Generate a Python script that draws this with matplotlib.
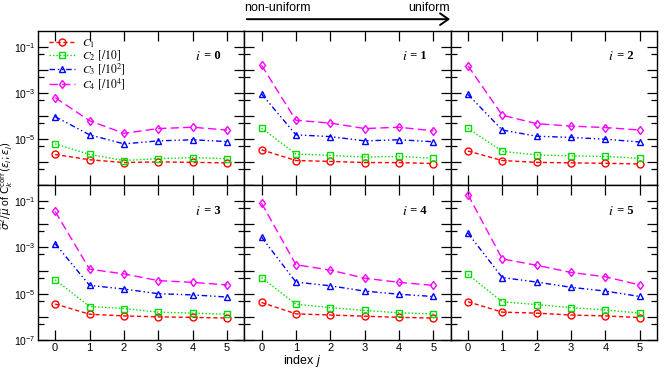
import matplotlib
matplotlib.use("Agg")
import matplotlib.pyplot as plt
import matplotlib.ticker as mticker
import numpy as np

# Data: index j, one list per curve for each panel i (values as plotted, already rescaled)
j_index = [0, 1, 2, 3, 4, 5]
panels = [0, 1, 2, 3, 4, 5]

c1 = [
    [2.2e-6, 1.3e-6, 9.8e-7, 1.05e-6, 1.0e-6, 9.5e-7],
    [3.5e-6, 1.2e-6, 1.1e-6, 9.8e-7, 9.8e-7, 8.9e-7],
    [3.1e-6, 1.2e-6, 1.0e-6, 9.5e-7, 9.1e-7, 8.5e-7],
    [3.6e-6, 1.3e-6, 1.1e-6, 1.0e-6, 9.5e-7, 8.9e-7],
    [4.2e-6, 1.35e-6, 1.2e-6, 1.07e-6, 9.5e-7, 8.9e-7],
    [4.5e-6, 1.6e-6, 1.45e-6, 1.2e-6, 1.1e-6, 9.3e-7],
]
c2 = [
    [6.3e-6, 2.2e-6, 1.2e-6, 1.45e-6, 1.6e-6, 1.45e-6],
    [3.0e-5, 2.3e-6, 2.0e-6, 1.7e-6, 1.8e-6, 1.5e-6],
    [3.0e-5, 3.0e-6, 2.1e-6, 1.9e-6, 1.8e-6, 1.5e-6],
    [4.0e-5, 2.8e-6, 2.3e-6, 1.6e-6, 1.45e-6, 1.3e-6],
    [5.0e-5, 3.5e-6, 2.5e-6, 1.9e-6, 1.5e-6, 1.35e-6],
    [6.8e-5, 4.5e-6, 3.4e-6, 2.5e-6, 2.0e-6, 1.45e-6],
]
c3 = [
    [9.5e-5, 1.55e-5, 6.3e-6, 8.5e-6, 9.5e-6, 7.9e-6],
    [9.1e-4, 1.55e-5, 1.3e-5, 8.5e-6, 9.5e-6, 7.8e-6],
    [8.7e-4, 2.5e-5, 1.35e-5, 1.2e-5, 1.0e-5, 7.6e-6],
    [1.45e-3, 2.3e-5, 1.6e-5, 1.0e-5, 8.9e-6, 7.2e-6],
    [2.8e-3, 3.2e-5, 2.2e-5, 1.3e-5, 9.5e-6, 7.6e-6],
    [4.2e-3, 5.0e-5, 3.2e-5, 1.9e-5, 1.3e-5, 7.6e-6],
]
c4 = [
    [6.3e-4, 6.3e-5, 1.8e-5, 2.9e-5, 3.3e-5, 2.5e-5],
    [1.6e-2, 6.6e-5, 5.0e-5, 2.9e-5, 3.3e-5, 2.3e-5],
    [1.5e-2, 1.1e-4, 4.7e-5, 3.7e-5, 3.2e-5, 2.5e-5],
    [3.6e-2, 1.15e-4, 7.2e-5, 3.7e-5, 3.1e-5, 2.4e-5],
    [8.3e-2, 1.8e-4, 1.05e-4, 4.7e-5, 3.1e-5, 2.3e-5],
    [1.95e-1, 3.2e-4, 1.7e-4, 8.3e-5, 5.4e-5, 2.4e-5],
]

labels = [r"$C_1$", r"$C_2\ [/10]$", r"$C_3\ [/10^2]$", r"$C_4\ [/10^4]$"]
colors = ["#ff0000", "#00dd00", "#0000ff", "#ff00ff"]
markers = ["o", "s", "^", "d"]
dashes = [(3, 2), (1, 1.5), (4, 2, 1, 2, 1, 2), (6, 3)]

plt.rcParams["font.family"] = ["Liberation Sans", "DejaVu Sans"]
plt.rcParams["mathtext.fontset"] = "custom"
plt.rcParams["mathtext.rm"] = "Liberation Sans"
plt.rcParams["mathtext.it"] = "Liberation Sans:italic"
plt.rcParams["mathtext.bf"] = "Liberation Sans:bold"

fig, axes = plt.subplots(2, 3, figsize=(6.64, 3.69), dpi=100)
fig.subplots_adjust(left=0.0572, right=0.9895, top=0.916, bottom=0.0786, wspace=0, hspace=0)


def make_fmt(skip):
    def fmt(v, pos):
        e = int(round(np.log10(v)))
        if e % 2 == 0 or e in skip:
            return ""
        return r"$10^{%d}$" % e
    return fmt


for k, ax in enumerate(axes.flat):
    row, col_i = divmod(k, 3)
    series = [c1[k], c2[k], c3[k], c4[k]]
    for s, lab, col, m, d in zip(series, labels, colors, markers, dashes):
        ax.plot(j_index, s, color=col, lw=1.0, dashes=d, marker=m,
                markersize=5 if m != "d" else 4.5, markerfacecolor="none",
                markeredgecolor=col, markeredgewidth=1.0, label=lab)
    ax.set_yscale("log")
    ax.set_ylim(1e-7, 10 ** -0.32)
    ax.set_xlim(-0.5, 5.5)
    ax.set_xticks(j_index)
    ax.set_xticklabels([str(j) for j in j_index])
    ax.yaxis.set_major_locator(mticker.LogLocator(base=10, numticks=20))
    ax.yaxis.set_minor_locator(mticker.LogLocator(base=10, subs=[5.0], numticks=20))
    ax.yaxis.set_major_formatter(mticker.FuncFormatter(make_fmt([-7] if row == 0 else [])))
    ax.yaxis.set_minor_formatter(mticker.NullFormatter())
    ax.tick_params(which="both", direction="in", top=True, right=True,
                   labelsize=8, width=0.9)
    ax.tick_params(axis="x", pad=2.5)
    ax.tick_params(axis="y", labelsize=7.5, pad=1.5)
    ax.tick_params(which="major", length=7)
    ax.tick_params(which="minor", length=4)
    for sp in ax.spines.values():
        sp.set_linewidth(1.0)
    ax.text(0.79, 0.835, r"$i$", transform=ax.transAxes, ha="right", va="center",
            fontsize=10, math_fontfamily="stix")
    ax.text(0.79, 0.835, " = %d" % panels[k], transform=ax.transAxes, ha="left",
            va="center", fontsize=9, family="Liberation Serif", fontweight="bold")
    if row == 0:
        ax.tick_params(labelbottom=False)
    if col_i > 0:
        ax.tick_params(labelleft=False)

leg = axes[0, 0].legend(loc="upper left", bbox_to_anchor=(0.04, 0.975), frameon=False,
                        fontsize=8.5, handlelength=2.2, handletextpad=0.6,
                        labelspacing=-0.1, numpoints=1, borderaxespad=0, borderpad=0.2)
for t in leg.get_texts():
    t.set_math_fontfamily("stix")

fig.text(0.4545, 0.022, r"index $j$", ha="center", va="center", fontsize=9)
fig.text(0.0105, 0.497,
         r"$\widehat{\sigma}^2/\widehat{\mu}$ of $\mathrm{C}_k^{\mathrm{corr}}(\varepsilon_i;\varepsilon_j)$",
         rotation=90, ha="center", va="center", fontsize=7.5, math_fontfamily="dejavusans")

# direction arrow on top of the middle column
fig.text(0.3675, 0.977, "non-uniform", ha="left", va="center", fontsize=9)
fig.text(0.678, 0.977, "uniform", ha="right", va="center", fontsize=9)
fig.patches.append(matplotlib.patches.FancyArrowPatch(
    (0.3675, 0.948), (0.682, 0.948), transform=fig.transFigure,
    arrowstyle="->,head_length=0.5,head_width=0.35", lw=1.4, color="black",
    mutation_scale=12))

plt.savefig("out.png", dpi=100)
